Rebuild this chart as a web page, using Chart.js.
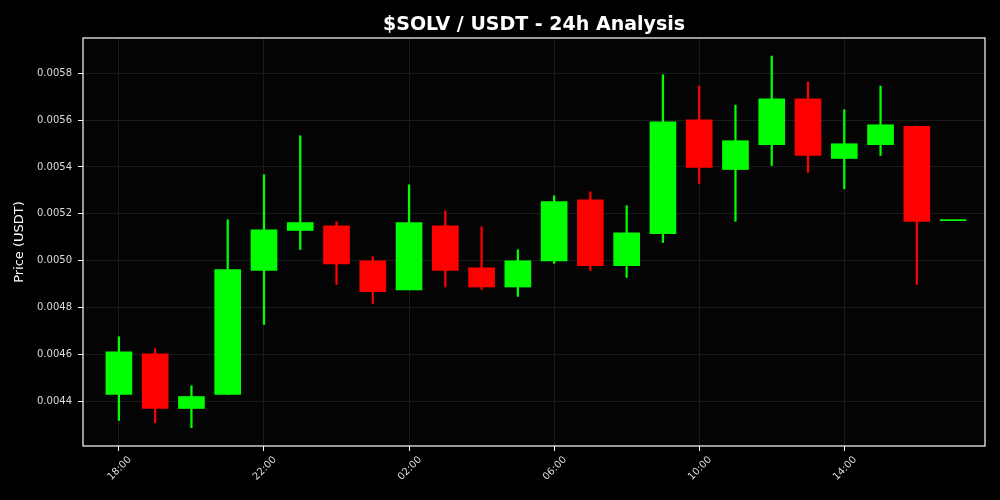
<!DOCTYPE html>
<html>
<head>
<meta charset="utf-8">
<script src="https://cdn.jsdelivr.net/npm/chart.js@4.4.1/dist/chart.umd.min.js"></script>
<style>
  html, body { margin: 0; padding: 0; background: #000; }
  #wrap { width: 1000px; height: 500px; }
</style>
</head>
<body>
<div id="wrap"><canvas id="chart" width="1000" height="500"></canvas></div>
<script>
// hourly candles, 18:00 -> 17:00
const times = ["18:00","19:00","20:00","21:00","22:00","23:00","00:00","01:00","02:00","03:00","04:00","05:00",
               "06:00","07:00","08:00","09:00","10:00","11:00","12:00","13:00","14:00","15:00","16:00","17:00"];
const openPrices  = [0.004430, 0.004603, 0.004370, 0.004430, 0.004959, 0.005129, 0.005149, 0.005000, 0.004876, 0.005149, 0.004970, 0.004888,
                     0.004999, 0.005260, 0.004979, 0.005115, 0.005601, 0.005389, 0.005495, 0.005691, 0.005436, 0.005495, 0.005573, 0.005171];
const highPrices  = [0.004676, 0.004625, 0.004467, 0.005175, 0.005367, 0.005533, 0.005166, 0.005017, 0.005324, 0.005213, 0.005145, 0.005047,
                     0.005277, 0.005294, 0.005235, 0.005793, 0.005745, 0.005664, 0.005873, 0.005763, 0.005644, 0.005745, 0.005575, 0.005171];
const lowPrices   = [0.004319, 0.004309, 0.004288, 0.004430, 0.004728, 0.005048, 0.004899, 0.004818, 0.004876, 0.004888, 0.004878, 0.004848,
                     0.004989, 0.004959, 0.004929, 0.005078, 0.005330, 0.005168, 0.005406, 0.005377, 0.005307, 0.005449, 0.004899, 0.005171];
const closePrices = [0.004612, 0.004370, 0.004421, 0.004962, 0.005132, 0.005163, 0.004987, 0.004868, 0.005163, 0.004959, 0.004888, 0.005000,
                     0.005252, 0.004979, 0.005119, 0.005593, 0.005398, 0.005512, 0.005691, 0.005449, 0.005499, 0.005580, 0.005168, 0.005171];
const xTickIdx = [0, 4, 8, 12, 16, 20];
const yTicks = [0.0044, 0.0046, 0.0048, 0.0050, 0.0052, 0.0054, 0.0056, 0.0058];

const UP = '#00ff00';
const DOWN = '#ff0000';
let colors = closePrices.map((c, i) => c >= openPrices[i] ? UP : DOWN);

let bodies = times.map((t, i) => ({ x: i, y: [openPrices[i], closePrices[i]] }));
let wicks = times.map((t, i) => ({ x: i, y: [lowPrices[i], highPrices[i]] }));

// title centred over the plot + plot frame
const framePlugin = {
  id: 'frame',
  beforeDraw(chart) {
    const { ctx, chartArea: a } = chart;
    ctx.save();
    ctx.fillStyle = '#000';
    ctx.fillRect(0, 0, chart.width, chart.height);
    ctx.fillStyle = '#040404';
    ctx.fillRect(a.left, a.top, a.right - a.left, a.bottom - a.top);
    ctx.restore();
  },
  afterDraw(chart) {
    const { ctx, chartArea: a } = chart;
    ctx.save();
    ctx.strokeStyle = '#ffffff';
    ctx.lineWidth = 1.2;
    ctx.strokeRect(a.left, a.top, a.right - a.left, a.bottom - a.top);
    ctx.fillStyle = '#ffffff';
    ctx.font = 'bold 19px "DejaVu Sans"';
    ctx.textAlign = 'center';
    ctx.textBaseline = 'alphabetic';
    ctx.fillText('$SOLV / USDT - 24h Analysis', (a.left + a.right) / 2, 30);
    ctx.restore();
  }
};

new Chart(document.getElementById('chart'), {
  type: 'bar',
  data: {
    datasets: [
      {
        label: 'body',
        data: bodies,
        backgroundColor: colors,
        borderWidth: 0,
        barThickness: 26,
        minBarLength: 1,
        grouped: false,
        order: 0
      },
      {
        label: 'wick',
        data: wicks,
        backgroundColor: colors,
        borderWidth: 0,
        barThickness: 1.6,
        grouped: false,
        order: 1
      }
    ]
  },
  options: {
    responsive: false,
    animation: false,
    layout: { padding: { top: 38, right: 15, left: 0, bottom: 0 } },
    plugins: {
      legend: { display: false },
      tooltip: { enabled: false },
      title: { display: false }
    },
    scales: {
      x: {
        type: 'linear',
        min: -0.99,
        max: 23.88,
        offset: false,
        afterBuildTicks: (s) => { s.ticks = xTickIdx.map(v => ({ value: v })); },
        afterFit: (s) => { s.height = 54; },
        grid: { offset: false, color: '#1a1a1a', tickColor: '#ffffff', tickLength: 5, lineWidth: 1 },
        border: { display: false },
        ticks: {
          color: '#dddddd',
          font: { family: 'DejaVu Sans', size: 10 },
          maxRotation: 45,
          minRotation: 45,
          padding: 3,
          labelOffset: 11,
          callback: (v) => times[v]
        }
      },
      y: {
        min: 0.00421,
        max: 0.00595,
        afterBuildTicks: (s) => { s.ticks = yTicks.map(v => ({ value: v })); },
        afterFit: (s) => { s.width = 83; },
        grid: { color: '#1a1a1a', tickColor: '#ffffff', tickLength: 5, lineWidth: 1 },
        border: { display: false },
        ticks: {
          color: '#dddddd',
          font: { family: 'DejaVu Sans', size: 10 },
          padding: 6,
          callback: (v) => Number(v).toFixed(4)
        },
        title: {
          display: true,
          text: 'Price (USDT)',
          color: '#ffffff',
          font: { family: 'DejaVu Sans', size: 13 },
          padding: { top: 12, bottom: 0 }
        }
      }
    }
  },
  plugins: [framePlugin]
});
</script>
</body>
</html>
